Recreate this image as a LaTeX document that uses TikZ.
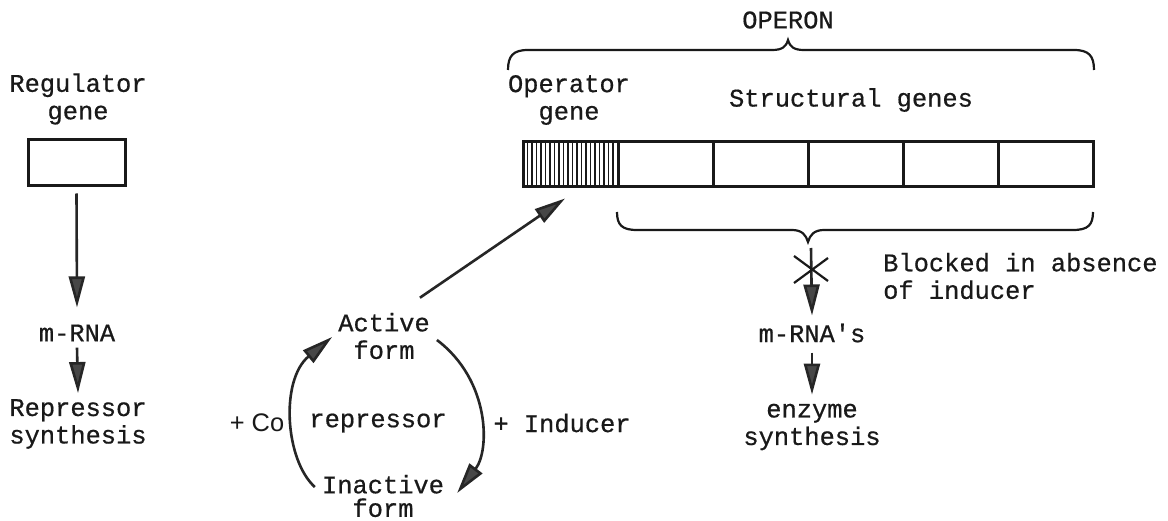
\documentclass[tikz,border=0pt]{standalone}
\usepackage{fontspec}
\newfontfamily\monof[FakeBold=0.6]{Liberation Mono}
\newfontfamily\sansf{Liberation Sans}
\usetikzlibrary{arrows.meta,calc}
\begin{document}
\begin{tikzpicture}[x=1pt,y=-1pt,
  txt/.style={font=\monof\fontsize{25.4}{27.5}\selectfont, align=center, inner sep=2pt, text=black!90},
  sanstxt/.style={txt, font=\sansf\fontsize{25.4}{27.5}\selectfont},
  gbox/.style={draw=black!90, line width=3pt, minimum width=95pt, minimum height=45pt, inner sep=0pt},
  arr/.style={draw=black!85, line width=2.6pt, -{Triangle[length=31pt,width=16pt,fill=black!72]}},
  brace/.style={draw=black!90, line width=2.2pt},
  hatch/.style={draw=black!90, line width=1.8pt},
  xmark/.style={draw=black!90, line width=2.2pt}
]
\useasboundingbox[fill=white] (0,0) rectangle (1168,521);

% ---- regulator column
\node[txt] (reglab) at (78,99) {Regulator\\gene};
\node[gbox, minimum width=97pt, minimum height=46pt] (regbox) at (76.5,163) {};
\node[txt] (mrna1) at (77,333) {m-RNA};
\node[txt] (repsyn) at (78,424) {Repressor\\synthesis};
\draw[arr] ($(regbox.south)+(0,6)$) -- ($(mrna1.north)+(0,-15)$);
\draw[arr] ($(mrna1.south)+(0,4)$) -- ($(repsyn.north)+(0,-4)$);

% ---- operon
\foreach \x in {527.5,532,...,614} \draw[hatch] (\x,143) -- (\x,186);
\node[gbox] (opg) at (570.5,164.5) {};
\node[gbox] (s1) at (665.5,164.5) {};
\node[gbox] (s2) at (760.5,164.5) {};
\node[gbox] (s3) at (855.5,164.5) {};
\node[gbox] (s4) at (950.5,164.5) {};
\node[gbox] (s5) at (1045.5,164.5) {};
\node[txt] (oplab) at (569,100) {Operator\\gene};
\node[txt] (struct) at (851,100) {Structural genes};
\node[txt] (operon) at (788,20) {OPERON};
\draw[brace] (508,70) .. controls (508,56) and (513,50) .. (528,50) -- (772,50)
  .. controls (782,50) and (786,47) .. (788,40) .. controls (790,47) and (794,50) .. (804,50)
  -- (1074,50) .. controls (1089,50) and (1094,56) .. (1094,70);
\draw[brace] (617,212) .. controls (617,225) and (622,230) .. (637,230) -- (792,230)
  .. controls (802,230) and (806,235) .. (808,242) .. controls (810,235) and (814,230) .. (824,230)
  -- (1073,230) .. controls (1088,230) and (1093,225) .. (1093,212);
\coordinate (btip) at (808,242);

% ---- structural genes output
\node[txt] (mrnas) at (812,333) {m-RNA's};
\node[txt] (enz) at (812,427) {enzyme\\synthesis};
\node[txt, align=left, anchor=west] (blocked) at (881,276) {Blocked in absence\\of inducer};
\draw[arr] ($(btip)+(3,6)$) -- ($(mrnas.north)+(0,-6)$);
\draw[xmark] (794,256) -- (828,281) (794,283) -- (828,258);
\draw[arr] ($(mrnas.south)+(0,8)$) -- ($(enz.north)+(0,-7)$);

% ---- repressor cycle
\node[txt] (active) at (384,336) {Active\\form};
\node[txt, inner sep=0pt, font=\monof\fontsize{25.4}{23.5}\selectfont] (inactive) at (383,496) {Inactive\\form};
\node[sanstxt] (co) at (257,423) {+ Co};
\node[txt] (repr) at (378,423) {repressor};
\node[txt] (ind) at (562,423) {+ Inducer};
\draw[arr] ($(inactive.west)+(-7,-9)$) .. controls (285,460) and (280,380) .. ($(active.west)+(-4,1)$);
\draw[arr] ($(active.east)+(5,4)$) .. controls (490,380) and (490,450) .. ($(inactive.east)+(13,-3)$);
\draw[arr] ($(active.north east)+(-12,-13)$) -- ($(opg.south)+(-5.5,10)$);
\end{tikzpicture}
\end{document}
